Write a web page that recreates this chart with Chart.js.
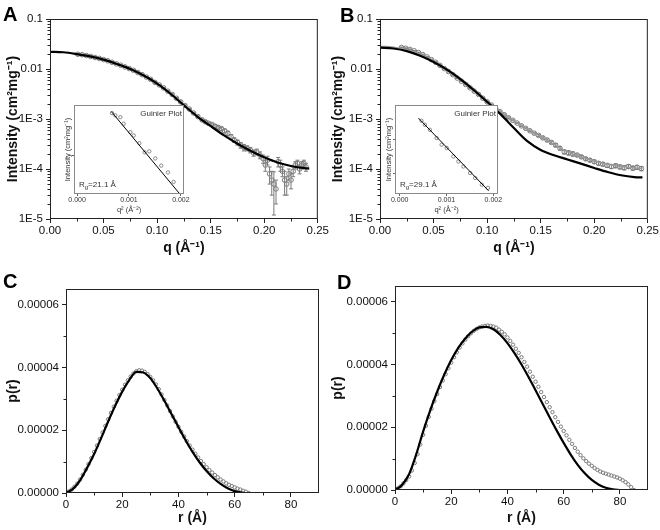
<!DOCTYPE html>
<html>
<head>
<meta charset="utf-8">
<title>SAXS profiles</title>
<script src="https://cdn.jsdelivr.net/npm/chart.js@4.4.1/dist/chart.umd.min.js"></script>
<style>
  html, body { margin: 0; background: #fff; }
  #fig { position: relative; width: 660px; height: 530px; overflow: hidden; }
  #fig canvas { position: absolute; }
  .tag { position: absolute; font: bold 20px/20px 'Liberation Sans', Arial, sans-serif; color: #000; }
</style>
</head>
<body>
<div id="fig">
  <canvas id="cA" width="330" height="265" style="left:0;top:0"></canvas>
  <canvas id="cB" width="330" height="265" style="left:330px;top:0"></canvas>
  <canvas id="cC" width="330" height="265" style="left:0;top:265px"></canvas>
  <canvas id="cD" width="330" height="265" style="left:330px;top:265px"></canvas>
  <canvas id="gA" width="140" height="116" style="left:60px;top:100px"></canvas>
  <canvas id="gB" width="130" height="116" style="left:381px;top:100px"></canvas>
  <div class="tag" style="left:3px;top:4px">A</div>
  <div class="tag" style="left:340px;top:5px">B</div>
  <div class="tag" style="left:3px;top:271px">C</div>
  <div class="tag" style="left:337px;top:272px">D</div>
</div>
<script>
// ---- данные: панель A (I(q), log) ----
const qA = [0.026,0.030,0.034,0.038,0.042,0.046,0.050,0.054,0.058,0.062,0.066,0.070,0.074,0.078,0.082,0.086,0.090,0.094,0.098,0.102,
            0.106,0.110,0.114,0.118,0.122,0.126,0.130,0.134,0.138,0.142,
            0.145,0.148,0.151,0.154,0.157,0.160,0.163,0.166,0.169,0.172,0.175,0.178,0.181,0.184,0.187,0.190,0.193,0.196,0.199,
            0.201,0.203,0.205,0.207,0.209,0.211,0.213,0.215,0.217,0.219,0.221,0.223,0.225,0.227,0.229,0.231,0.233,0.235,0.237,0.239];
const iA = [0.0197,0.0193,0.0186,0.0178,0.0170,0.0163,0.0154,0.0146,0.0136,0.0127,0.0119,0.0110,0.0102,0.0094,0.0085,0.0077,0.0069,0.0062,0.0054,0.0048,
            0.0042,0.0036,0.0031,0.0026,0.0022,0.00186,0.00158,0.00132,0.00112,0.00096,
            0.00088,0.00082,0.00078,0.00072,0.00068,0.00064,0.00058,0.00052,0.00044,0.00038,0.00034,0.00030,0.00027,0.00026,0.00024,0.00021,0.00022,0.00019,0.00016,
            0.00012,0.00015,0.00008,0.00006,0.00005,0.00004,0.00014,0.00012,0.00009,0.00006,0.00005,0.00008,0.00006,0.00009,0.00012,0.00013,0.00010,0.00012,0.00013,0.00011];
const eA = [0.0005,0.0005,0.0005,0.0005,0.0004,0.0004,0.0004,0.0004,0.0003,0.0003,0.0003,0.0003,0.0003,0.0002,0.0002,0.0002,0.0002,0.0002,0.0002,0.0001,
            0.0001,0.0001,0.0001,0.0001,0.0001,0.00006,0.00005,0.00004,0.00004,0.00004,
            0.00005,0.00005,0.00005,0.00005,0.00005,0.00005,0.00005,0.00005,0.00005,0.00004,0.00004,0.00004,0.00004,0.00003,0.00003,0.00003,0.00003,0.00003,0.00003,
            0.00003,0.00003,0.00003,0.00003,0.000038,0.00002,0.00003,0.00003,0.00002,0.00003,0.00002,0.00002,0.00002,0.00002,0.00002,0.00002,0.00002,0.00002,0.00002,0.00002];
const qFitA = [0,0.0125,0.025,0.0375,0.05,0.0625,0.075,0.0875,0.10,0.1125,0.125,0.1375,0.15,0.1625,0.175,0.1875,0.20,0.2125,0.225,0.2375,0.242];
const iFitA = [0.0221,0.0216,0.0199,0.0179,0.0154,0.0126,0.0100,0.0074,0.0051,0.0032,0.00188,0.00112,0.00072,0.00047,0.00032,0.00023,0.000172,0.000135,0.000115,0.000104,0.000102];

// ---- панель B ----
const qB = [0.020,0.024,0.028,0.032,0.036,0.040,0.044,0.048,0.052,0.056,0.060,0.064,0.068,0.072,0.076,0.080,0.084,0.088,0.092,0.096,
            0.100,0.104,0.108,0.112,0.116,0.120,0.124,0.128,0.132,0.136,0.140,0.144,0.148,0.152,0.156,0.160,0.164,0.168,
            0.172,0.176,0.180,0.184,0.188,0.192,0.196,0.200,0.204,0.208,0.212,0.216,0.220,0.224,0.228,0.232,0.236,0.240,0.244];
const iB = [0.0270,0.0260,0.0247,0.0231,0.0213,0.0194,0.0174,0.0154,0.0136,0.0118,0.0102,0.0089,0.0077,0.0066,0.0057,0.0049,0.0042,0.0036,0.0031,0.0026,
            0.0022,0.00190,0.00162,0.00140,0.00122,0.00106,0.00094,0.00083,0.00073,0.00065,0.00058,0.00052,0.00047,0.00042,0.00038,0.00034,0.00030,0.00026,
            0.00022,0.00021,0.00020,0.00019,0.000175,0.000160,0.000150,0.000140,0.000130,0.000125,0.000118,0.000112,0.000116,0.000110,0.000106,0.000112,0.000104,0.000108,0.000102];
const eB = [0.0005,0.0005,0.0005,0.0004,0.0004,0.0004,0.0003,0.0003,0.0003,0.0002,0.0002,0.0002,0.0002,0.0001,0.0001,0.0001,0.0001,0.0001,0.0001,0.00005,
            0.00005,0.00004,0.00004,0.00003,0.00003,0.00003,0.00002,0.00002,0.00002,0.00002,0.00002,0.00002,0.00002,0.00002,0.00002,0.00002,0.00002,0.00002,
            0.00002,0.00002,0.00002,0.00001,0.00001,0.00001,0.00001,0.00001,0.00001,0.00001,0.00001,0.00001,0.00001,0.00001,0.00001,0.00001,0.00001,0.00001,0.00001];
const qFitB = [0,0.0125,0.025,0.0375,0.05,0.0625,0.075,0.0875,0.10,0.1125,0.125,0.1375,0.15,0.1625,0.175,0.1875,0.20,0.2125,0.225,0.2375,0.245];
const iFitB = [0.0268,0.0257,0.0228,0.0184,0.0138,0.0097,0.0063,0.0038,0.0022,0.00125,0.00066,0.00036,0.00024,0.000188,0.000155,0.000128,0.000105,0.000087,0.000075,0.000069,0.000068];
const iGreyB = [0.0285,0.0272,0.0242,0.0195,0.0145,0.0100,0.0065,0.0040,0.0023,0.00140,0.00092,0.00064,0.00045,0.00031,0.00022,0.000175,0.000145,0.000125,0.000112,0.000105,0.000102];

// ---- вставки Гинье ----
const q2GA = [0.000673,0.000737,0.000833,0.000897,0.001026,0.001090,0.001199,0.001301,0.001391,0.001506,0.001622,0.00175,0.00186];
const iGA  = [0.01983,0.01973,0.01965,0.01936,0.01899,0.01885,0.01852,0.01814,0.01818,0.01789,0.01760,0.01733,0.01696];
const q2LineA = [0.00066, 0.00198];
const iLineA  = [0.0199, 0.0165];
const q2GB = [0.000466,0.000538,0.000645,0.000789,0.000896,0.001004,0.001147,0.001254,0.001362,0.001505,0.001613,0.001756,0.001885];
const iGB  = [0.02461,0.02404,0.02334,0.02223,0.02138,0.02097,0.01995,0.01937,0.01881,0.01810,0.01758,0.01690,0.01658];
const q2LineB = [0.00040, 0.00190];
const iLineB  = [0.0250, 0.0163];

// ---- p(r), в единицах 1e-6 ----
const rC = [0,1,2,3,4,5,6,7,8,9,10,11,12,13,14,15,16,17,18,19,20,21,22,23,24,25,26,27,28,29,30,31,32,33,34,35,36,37,38,39,
            40,41,42,43,44,45,46,47,48,49,50,51,52,53,54,55,56,57,58,59,60,61,62,63,64,65];
const pC = [0,0.5,1.1,2.0,3.0,4.3,5.8,7.4,9.2,11.1,13.1,15.1,17.2,19.3,21.4,23.5,25.5,27.5,29.4,31.2,
            32.9,34.5,35.9,37.1,38.1,38.8,39.1,39.0,38.6,37.9,37.0,35.9,34.6,33.1,31.4,29.6,27.9,26.1,24.4,22.7,
            21.1,19.5,18.0,16.5,15.1,13.8,12.5,11.3,10.2,9.2,8.2,7.3,6.5,5.7,5.0,4.3,3.7,3.1,2.6,2.2,1.8,1.4,1.1,0.7,0.4,0.0];
const rFitC = [0,2.5,5,7.5,10,12.5,15,17.5,20,22.5,25,27.5,30,32.5,35,37.5,40,42.5,45,47.5,50,52.5,55,57.5,60,62.5,63.5];
const pFitC = [0,1.3,4.0,8.0,12.4,17.5,22.8,27.8,32.3,36.0,38.6,38.4,36.6,33.3,29.4,25.2,21.0,16.9,13.1,9.8,7.0,4.7,2.9,1.5,0.6,0.1,0];

const rD = [0,1,2,3,4,5,6,7,8,9,10,11,12,13,14,15,16,17,18,19,20,21,22,23,24,25,26,27,28,29,30,31,32,33,34,35,36,37,38,39,
            40,41,42,43,44,45,46,47,48,49,50,51,52,53,54,55,56,57,58,59,60,61,62,63,64,65,66,67,68,69,70,71,72,73,74,75,76,77,78,79,
            80,81,82,83,84,85];
const pD = [0,0.5,1.2,2.1,3.2,4.3,6.2,8.6,11.4,14.5,17.6,20.5,23.3,25.9,28.3,30.6,32.8,34.9,36.9,38.8,
            40.6,42.3,43.9,45.4,46.7,47.9,49.0,49.9,50.7,51.3,51.8,52.1,52.3,52.4,52.3,52.1,51.7,51.1,50.4,49.6,
            48.6,47.5,46.3,45.0,43.7,42.3,40.8,39.3,37.7,36.1,34.5,32.9,31.2,29.6,28.0,26.4,24.8,23.2,21.7,20.2,
            18.8,17.4,16.0,14.7,13.4,12.2,11.1,10.1,9.2,8.4,7.7,7.0,6.4,5.9,5.5,5.2,4.9,4.6,4.3,4.0,
            3.6,3.1,2.5,1.8,0.9,0.0];
const rFitD = [0,2.5,5,7.5,10,12.5,15,17.5,20,22.5,25,27.5,30,32.5,35,37.5,40,42.5,45,47.5,50,52.5,55,57.5,60,62.5,65,67.5,70,72.5,75,77.5,80];
const pFitD = [0,1.6,5.0,11.2,18.6,25.3,31.3,36.7,41.4,45.3,48.3,50.5,51.8,52.0,51.2,49.4,46.8,43.6,40.0,36.0,
               31.8,27.5,23.2,19.0,15.0,11.3,8.0,5.3,3.2,1.7,0.7,0.2,0];

// ---- подписи осей ----
const qTicks = [0, 0.05, 0.10, 0.15, 0.20, 0.25];
const qMinor = [0.025, 0.075, 0.125, 0.175, 0.225];
const iTicks = [1e-5, 1e-4, 1e-3, 1e-2, 1e-1];
const rTicks = [0, 20, 40, 60, 80];
const rMinor = [10, 30, 50, 70];
const pTicks = [0, 20, 40, 60];
const pMinor = [10, 30, 50];
const q2Ticks = [0, 0.001, 0.002];

const FONT = "'Liberation Sans', Arial, sans-serif";
const INK = '#111', AXIS = '#222', GREY = '#7a7a7a';
Chart.defaults.font.family = FONT;
Chart.defaults.color = INK;

// минорные деления логарифмической оси
const logMinor = [];
[1e-5, 1e-4, 1e-3, 1e-2].forEach(d => { for (let k = 2; k <= 9; k++) logMinor.push(k * d); });

const pts = (xs, ys) => xs.map((x, i) => ({ x, y: ys[i] }));
const errPts = (xs, ys, es) => {
  const out = [];
  xs.forEach((x, i) => out.push({ x, y: ys[i] - es[i] }, { x, y: ys[i] + es[i] }, { x, y: null }));
  return out;
};
const circles = (data, r, color) => ({ data, showLine: false, pointStyle: 'circle', pointRadius: r, pointBorderWidth: 1,
  pointBorderColor: color || GREY, pointBackgroundColor: 'rgba(0,0,0,0)' });
const curve = (data, color, w) => ({ data, showLine: true, pointRadius: 0, borderColor: color, borderWidth: w,
  cubicInterpolationMode: 'monotone' });
const bars = data => ({ data, showLine: true, spanGaps: false, borderColor: GREY, borderWidth: 1,
  pointStyle: 'line', pointRadius: 2, pointBorderColor: GREY, pointBorderWidth: 1 });

// рамка, минорные деления, подписи вставки
function deco(o) {
  return {
    id: 'deco',
    beforeDraw(chart) {
      if (!o.fill) return;
      const { ctx, chartArea: a } = chart;
      ctx.save(); ctx.fillStyle = '#fff';
      ctx.fillRect(a.left, a.top, a.right - a.left, a.bottom - a.top);
      ctx.restore();
    },
    afterDraw(chart) {
      const { ctx, chartArea: a, scales: { x, y } } = chart;
      ctx.save();
      ctx.strokeStyle = o.frame; ctx.lineWidth = 1;
      ctx.strokeRect(a.left + 0.5, a.top + 0.5, a.right - a.left - 1, a.bottom - a.top - 1);
      ctx.beginPath();
      (o.minorX || []).forEach(v => {
        const p = Math.round(x.getPixelForValue(v)) + 0.5;
        ctx.moveTo(p, a.bottom); ctx.lineTo(p, a.bottom + 2.5);
      });
      (o.minorY || []).forEach(v => {
        const p = Math.round(y.getPixelForValue(v)) + 0.5;
        ctx.moveTo(a.left, p); ctx.lineTo(a.left - 2.5, p);
      });
      ctx.stroke();
      if (o.rg) {
        ctx.fillStyle = '#333';
        ctx.font = '8px ' + FONT;
        ctx.textAlign = 'right'; ctx.textBaseline = 'alphabetic';
        ctx.fillText('Guinier Plot', a.right - 2, a.top + 11);
        ctx.textAlign = 'left';
        let px = a.left + 5; const py = a.bottom - 7;
        ctx.fillText('R', px, py); px += ctx.measureText('R').width;
        ctx.font = '6px ' + FONT;
        ctx.fillText('g', px, py + 2); px += ctx.measureText('g').width;
        ctx.font = '8px ' + FONT;
        ctx.fillText('=' + o.rg + ' Å', px, py);
      }
      ctx.restore();
    }
  };
}

function panel(id, o) {
  const small = !!o.inset;
  const tickFont = { size: small ? 7 : 11.5 };
  const titleFont = small ? { size: 7.5 } : { size: 14, weight: 'bold' };
  const tl = small ? 2 : 4;
  const col = small ? '#666' : AXIS;
  return new Chart(document.getElementById(id), {
    type: 'scatter',
    data: { datasets: o.datasets },
    options: {
      responsive: false, animation: false, events: [], devicePixelRatio: 1,
      layout: { padding: o.pad },
      plugins: { legend: { display: false }, tooltip: { enabled: false } },
      scales: {
        x: {
          type: 'linear', min: o.x.min, max: o.x.max,
          afterBuildTicks: s => { s.ticks = o.x.ticks.map(v => ({ value: v })); },
          afterFit: s => { s.height = o.x.size; },
          border: { display: false },
          grid: { drawOnChartArea: false, tickLength: tl, color: col },
          ticks: { font: tickFont, color: small ? '#333' : INK, padding: small ? 0 : 1, maxRotation: 0, autoSkip: false, callback: o.x.fmt },
          title: { display: true, text: o.x.title, color: small ? '#333' : INK, font: titleFont, padding: { top: 0, bottom: o.x.tpad } }
        },
        y: {
          type: o.y.type, min: o.y.min, max: o.y.max,
          afterBuildTicks: s => { s.ticks = o.y.ticks.map(v => ({ value: v })); },
          afterFit: s => { s.width = o.y.size; },
          border: { display: false },
          grid: { drawOnChartArea: false, tickLength: tl, color: col },
          ticks: { display: !small, font: tickFont, color: INK, padding: 3, autoSkip: false, callback: o.y.fmt },
          title: { display: true, text: o.y.title, color: small ? '#333' : INK, font: titleFont, padding: { top: o.y.tpad, bottom: 0 } }
        }
      }
    },
    plugins: [deco(o.deco)]
  });
}

const fmtQ = v => v.toFixed(2);
const fmtI = v => v >= 0.01 ? String(v) : '1E' + Math.round(Math.log10(v));
const fmtP = v => (v * 1e-6).toFixed(5);
const fmtR = v => String(v);
const fmtQ2 = v => v.toFixed(3);

// A
panel('cA', {
  pad: { left: 0, top: 19, right: 12, bottom: 0 },
  datasets: [curve(pts(qFitA, iFitA), '#000', 2.2), circles(pts(qA, iA), 2.3), bars(errPts(qA, iA, eA))],
  x: { min: 0, max: 0.25, ticks: qTicks, fmt: fmtQ, size: 46, title: 'q (Å⁻¹)', tpad: 8.6 },
  y: { type: 'logarithmic', min: 1e-5, max: 0.1, ticks: iTicks, fmt: fmtI, size: 50, title: 'Intensity (cm²mg⁻¹)', tpad: 4.6 },
  deco: { frame: AXIS, minorX: qMinor, minorY: logMinor }
});

// B
panel('cB', {
  pad: { left: 0, top: 19, right: 12, bottom: 0 },
  datasets: [curve(pts(qFitB, iFitB), '#000', 2.2), curve(pts(qFitB, iGreyB), '#9a9a9a', 1.6),
             circles(pts(qB, iB), 2.3), bars(errPts(qB, iB, eB))],
  x: { min: 0, max: 0.25, ticks: qTicks, fmt: fmtQ, size: 46, title: 'q (Å⁻¹)', tpad: 8.6 },
  y: { type: 'logarithmic', min: 1e-5, max: 0.1, ticks: iTicks, fmt: fmtI, size: 50, title: 'Intensity (cm²mg⁻¹)', tpad: 0 },
  deco: { frame: AXIS, minorX: qMinor, minorY: logMinor }
});

// C
panel('cC', {
  pad: { left: 0, top: 24, right: 11, bottom: 0 },
  datasets: [curve(pts(rFitC, pFitC), '#000', 2.2), circles(pts(rC, pC), 1.7)],
  x: { min: 0, max: 90, ticks: rTicks, fmt: fmtR, size: 37, title: 'r (Å)', tpad: 3.6 },
  y: { type: 'linear', min: 0, max: 65, ticks: pTicks, fmt: fmtP, size: 66, title: 'p(r)', tpad: 4.6 },
  deco: { frame: AXIS, minorX: rMinor, minorY: pMinor }
});

// D
panel('cD', {
  pad: { left: 0, top: 21, right: 12, bottom: 0 },
  datasets: [curve(pts(rFitD, pFitD), '#000', 2.2), circles(pts(rD, pD), 1.7)],
  x: { min: 0, max: 90, ticks: rTicks, fmt: fmtR, size: 40, title: 'r (Å)', tpad: 3.6 },
  y: { type: 'linear', min: 0, max: 65, ticks: pTicks, fmt: fmtP, size: 65, title: 'p(r)', tpad: 0 },
  deco: { frame: AXIS, minorX: rMinor, minorY: pMinor }
});

// вставки
panel('gA', {
  inset: true,
  pad: { left: 0, top: 5, right: 16, bottom: 0 },
  datasets: [curve(pts(q2LineA, iLineA), '#000', 1), circles(pts(q2GA, iGA), 1.7, '#8a8a8a')],
  x: { min: -0.00006, max: 0.00206, ticks: q2Ticks, fmt: fmtQ2, size: 22, title: 'q² (Å⁻²)', tpad: 2 },
  y: { type: 'logarithmic', min: 0.0165, max: 0.0202, ticks: [0.018], fmt: fmtI, size: 14, title: 'Intensity (cm²mg⁻¹)', tpad: 3 },
  deco: { frame: '#8a8a8a', fill: true, rg: '21.1' }
});
panel('gB', {
  inset: true,
  pad: { left: 0, top: 5, right: 13, bottom: 0 },
  datasets: [curve(pts(q2LineB, iLineB), '#000', 1), circles(pts(q2GB, iGB), 1.7, '#8a8a8a')],
  x: { min: -0.0001, max: 0.0021, ticks: q2Ticks, fmt: fmtQ2, size: 22, title: 'q² (Å⁻²)', tpad: 2 },
  y: { type: 'logarithmic', min: 0.0160, max: 0.0270, ticks: [0.018, 0.022], fmt: fmtI, size: 14, title: 'Intensity (cm²mg⁻¹)', tpad: 3 },
  deco: { frame: '#8a8a8a', fill: true, rg: '29.1' }
});
</script>
</body>
</html>
